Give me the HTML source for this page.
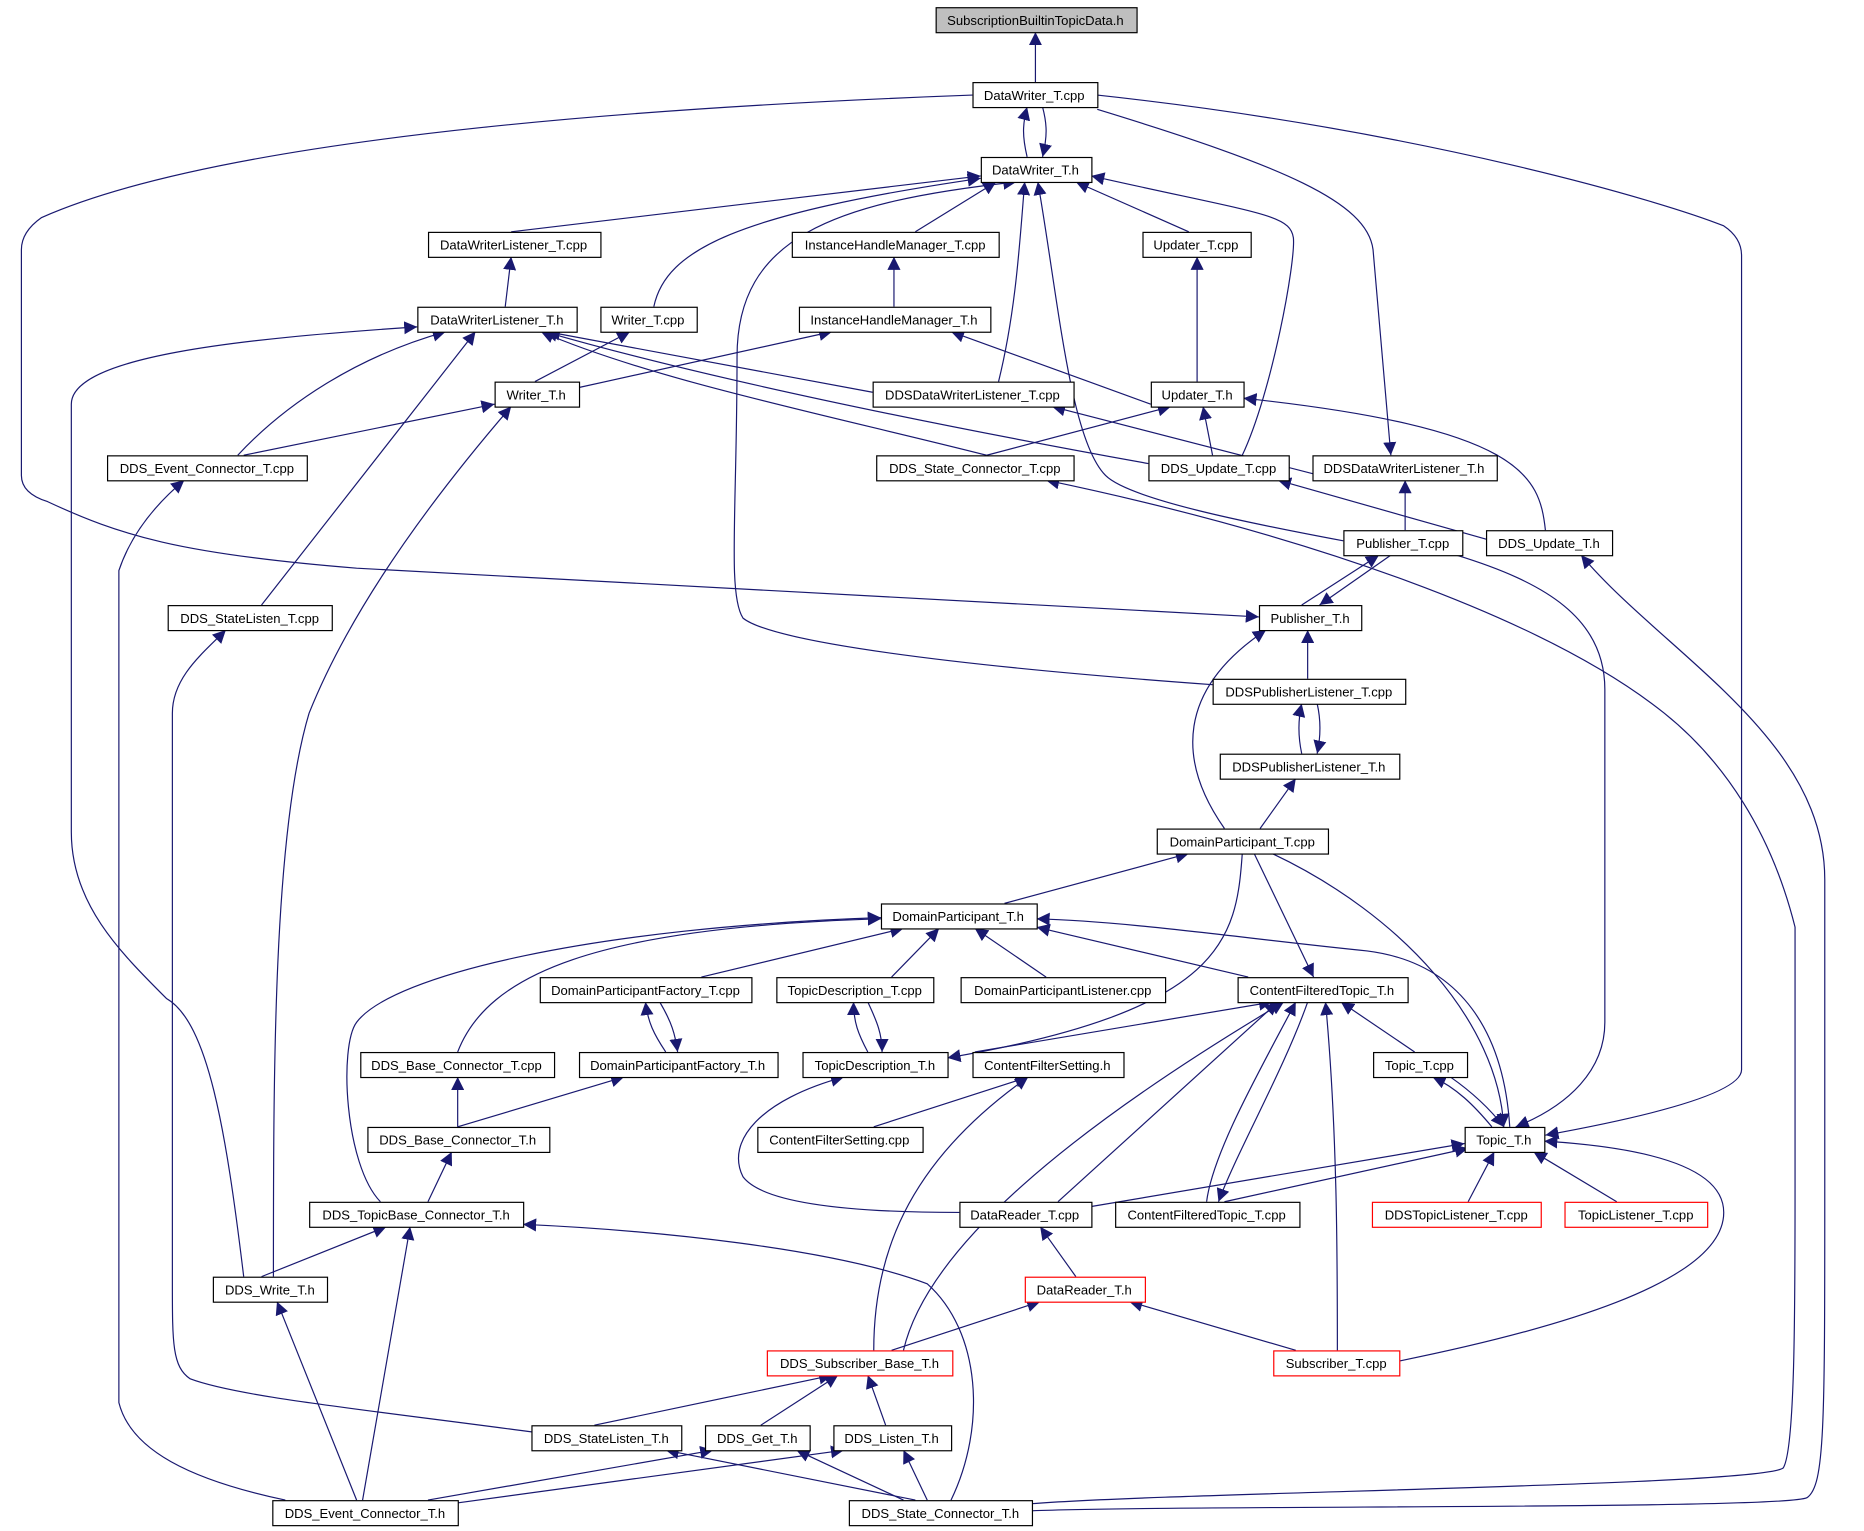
<!DOCTYPE html>
<html><head><meta charset="utf-8"><style>
html,body{margin:0;padding:0;background:#fff;width:1864px;height:1531px;overflow:hidden}
svg{display:block}
text{font-family:"Liberation Sans",sans-serif;font-size:11px;text-anchor:middle;fill:#000}
</style></head><body>
<svg width="1864" height="1531" viewBox="0 0 1568 1288" preserveAspectRatio="none" xmlns="http://www.w3.org/2000/svg">
<defs><marker id="a" viewBox="0 0 10 10" refX="10" refY="5" markerWidth="11" markerHeight="11" markerUnits="userSpaceOnUse" orient="auto"><path d="M0,0L10,5L0,10z" fill="#191970"/></marker></defs>
<g fill="none" stroke="#191970" stroke-width="1" marker-end="url(#a)">
<path d="M871,69L871,27"/>
<path d="M864,132C860,115 860,105 864,90"/>
<path d="M877,90C881,105 881,115 877,132"/>
<path d="M818,80C600,88 200,110 35,183Q18,195 18,210L18,400Q18,415 40,422C100,450 150,466 300,478L1059,519"/>
<path d="M923,80C1200,110 1400,170 1450,190Q1465,200 1465,215L1465,900Q1465,925 1300,955"/>
<path d="M923,92C1080,140 1150,170 1155,210L1170,383"/>
<path d="M430,195L825,148"/>
<path d="M770,195L838,153"/>
<path d="M1000,195L905,153"/>
<path d="M550,258C560,210 620,180 825,150"/>
<path d="M840,321C855,260 858,200 862,153"/>
<path d="M1045,383C1070,330 1090,220 1088,200C1085,180 1060,180 918,148"/>
<path d="M1130,455C1050,440 950,420 930,400C900,370 890,250 873,153"/>
<path d="M1020,576C800,560 650,540 625,520C612,500 620,430 620,300C620,200 700,170 855,153"/>
<path d="M1007,321L1007,216"/>
<path d="M752,258L752,216"/>
<path d="M425,258L430,216"/>
<path d="M450,321L530,279"/>
<path d="M487,326L700,279"/>
<path d="M734,330L460,279"/>
<path d="M968,340L800,279"/>
<path d="M830,383C700,350 550,320 455,279"/>
<path d="M966,390C800,360 600,320 458,279"/>
<path d="M200,383C240,340 300,300 375,279"/>
<path d="M205,383L416,340"/>
<path d="M220,509L400,279"/>
<path d="M205,1074C190,950 175,860 140,840C100,800 60,760 60,700L60,340C60,300 200,285 351,275"/>
<path d="M230,1074C230,900 230,700 260,600C300,500 380,400 430,342"/>
<path d="M830,383L985,342"/>
<path d="M1020,383L1012,342"/>
<path d="M1110,400L885,342"/>
<path d="M1300,446C1295,400 1280,360 1046,335"/>
<path d="M1255,455L1075,404"/>
<path d="M1182,446L1182,404"/>
<path d="M1095,509L1160,467"/>
<path d="M1170,467L1110,509"/>
<path d="M1225,467C1300,490 1350,520 1350,580L1350,860C1350,900 1320,930 1275,948"/>
<path d="M868,1271C1000,1266 1500,1270 1520,1260C1535,1250 1535,1200 1535,1000L1535,740C1535,620 1400,550 1330,467"/>
<path d="M868,1265C1000,1255 1480,1250 1500,1235C1510,1220 1510,1100 1510,1000L1510,780C1490,700 1450,640 1400,600C1300,520 1100,450 880,404"/>
<path d="M1100,571L1100,530"/>
<path d="M1095,634C1092,620 1092,605 1095,592"/>
<path d="M1108,592C1111,605 1111,620 1108,634"/>
<path d="M1060,697L1090,655"/>
<path d="M1030,697C990,640 990,580 1065,530"/>
<path d="M845,760L1000,718"/>
<path d="M1045,718C1040,790 1030,850 797,890"/>
<path d="M1055,718L1105,822"/>
<path d="M1070,718C1180,770 1260,860 1265,948"/>
<path d="M590,822L760,781"/>
<path d="M750,822L790,781"/>
<path d="M880,822L820,781"/>
<path d="M1050,822L872,780"/>
<path d="M1270,948C1265,870 1230,810 1150,800C1050,790 950,775 872,773"/>
<path d="M385,885C410,820 500,780 741,773"/>
<path d="M320,1011C290,980 285,880 300,860C330,820 500,780 741,772"/>
<path d="M560,885C550,870 545,860 543,843"/>
<path d="M555,843C565,860 568,870 570,885"/>
<path d="M730,885C722,870 718,860 718,843"/>
<path d="M730,843C738,860 742,870 742,885"/>
<path d="M820,885L1070,843"/>
<path d="M1190,885L1128,843"/>
<path d="M385,948L385,906"/>
<path d="M385,948L525,906"/>
<path d="M735,948L865,906"/>
<path d="M1255,948C1240,930 1225,915 1205,906"/>
<path d="M1220,906C1240,920 1255,935 1265,948"/>
<path d="M360,1011L380,969"/>
<path d="M807,1020C700,1020 640,1010 625,990C610,960 640,925 710,906"/>
<path d="M890,1011L1075,843"/>
<path d="M918,1015L1232,962"/>
<path d="M1015,1011C1020,970 1060,900 1090,843"/>
<path d="M1100,843C1080,900 1040,970 1025,1011"/>
<path d="M1030,1011L1235,966"/>
<path d="M1235,1011L1257,969"/>
<path d="M1360,1011L1290,969"/>
<path d="M220,1074L325,1032"/>
<path d="M905,1074L875,1032"/>
<path d="M760,1136C780,1050 900,950 1080,843"/>
<path d="M735,1136C735,1060 760,980 865,906"/>
<path d="M750,1136L875,1095"/>
<path d="M1090,1136L950,1095"/>
<path d="M1125,1136C1125,1060 1125,950 1115,843"/>
<path d="M1177,1145C1300,1120 1450,1080 1450,1020C1450,980 1380,965 1299,960"/>
<path d="M500,1199L700,1157"/>
<path d="M640,1199L705,1157"/>
<path d="M745,1199L730,1157"/>
<path d="M450,1205C300,1185 200,1175 160,1160C145,1150 145,1130 145,1080L145,600C145,570 170,550 190,530"/>
<path d="M300,1262L233,1095"/>
<path d="M305,1262L345,1032"/>
<path d="M240,1262C160,1245 110,1220 100,1180L100,480C110,450 130,425 155,404"/>
<path d="M360,1262L600,1220"/>
<path d="M380,1265L710,1220"/>
<path d="M770,1262L560,1220"/>
<path d="M760,1262L670,1220"/>
<path d="M780,1262L760,1220"/>
<path d="M800,1262C830,1200 825,1120 780,1080C700,1050 550,1035 440,1030"/>
</g>
<g stroke-width="1" fill="#fff" stroke="#000">
<rect x="787.5" y="6.5" width="169" height="21" fill="#bfbfbf"/>
<rect x="818.5" y="69.5" width="105" height="21"/>
<rect x="825.5" y="132.5" width="93" height="21"/>
<rect x="360.5" y="195.5" width="145" height="21"/>
<rect x="666.5" y="195.5" width="174" height="21"/>
<rect x="961.5" y="195.5" width="91" height="21"/>
<rect x="351.5" y="258.5" width="134" height="21"/>
<rect x="505.5" y="258.5" width="81" height="21"/>
<rect x="672.5" y="258.5" width="161" height="21"/>
<rect x="416.5" y="321.5" width="71" height="21"/>
<rect x="734.5" y="321.5" width="169" height="21"/>
<rect x="968.5" y="321.5" width="78" height="21"/>
<rect x="90.5" y="383.5" width="168" height="21"/>
<rect x="737.5" y="383.5" width="166" height="21"/>
<rect x="966.5" y="383.5" width="118" height="21"/>
<rect x="1104.5" y="383.5" width="155" height="21"/>
<rect x="1130.5" y="446.5" width="100" height="21"/>
<rect x="1250.5" y="446.5" width="106" height="21"/>
<rect x="141.5" y="509.5" width="138" height="21"/>
<rect x="1059.5" y="509.5" width="86" height="21"/>
<rect x="1020.5" y="571.5" width="162" height="21"/>
<rect x="1026.5" y="634.5" width="151" height="21"/>
<rect x="973.5" y="697.5" width="144" height="21"/>
<rect x="741.5" y="760.5" width="131" height="21"/>
<rect x="454.5" y="822.5" width="178" height="21"/>
<rect x="653.5" y="822.5" width="132" height="21"/>
<rect x="808.5" y="822.5" width="172" height="21"/>
<rect x="1041.5" y="822.5" width="143" height="21"/>
<rect x="303.5" y="885.5" width="163" height="21"/>
<rect x="487.5" y="885.5" width="167" height="21"/>
<rect x="675.5" y="885.5" width="122" height="21"/>
<rect x="818.5" y="885.5" width="127" height="21"/>
<rect x="1155.5" y="885.5" width="79" height="21"/>
<rect x="309.5" y="948.5" width="153" height="21"/>
<rect x="637.5" y="948.5" width="139" height="21"/>
<rect x="1232.5" y="948.5" width="67" height="21"/>
<rect x="260.5" y="1011.5" width="180" height="21"/>
<rect x="807.5" y="1011.5" width="111" height="21"/>
<rect x="938.5" y="1011.5" width="155" height="21"/>
<rect x="1154.5" y="1011.5" width="142" height="21" stroke="#f00"/>
<rect x="1316.5" y="1011.5" width="120" height="21" stroke="#f00"/>
<rect x="179.5" y="1074.5" width="96" height="21"/>
<rect x="862.5" y="1074.5" width="101" height="21" stroke="#f00"/>
<rect x="645.5" y="1136.5" width="156" height="21" stroke="#f00"/>
<rect x="1071.5" y="1136.5" width="106" height="21" stroke="#f00"/>
<rect x="447.5" y="1199.5" width="126" height="21"/>
<rect x="593.5" y="1199.5" width="88" height="21"/>
<rect x="701.5" y="1199.5" width="99" height="21"/>
<rect x="229.5" y="1262.5" width="156" height="21"/>
<rect x="714.5" y="1262.5" width="154" height="21"/>
</g>
<g>
<text x="871" y="21">SubscriptionBuiltinTopicData.h</text>
<text x="870" y="84">DataWriter_T.cpp</text>
<text x="871" y="147">DataWriter_T.h</text>
<text x="432" y="210">DataWriterListener_T.cpp</text>
<text x="753" y="210">InstanceHandleManager_T.cpp</text>
<text x="1006" y="210">Updater_T.cpp</text>
<text x="418" y="273">DataWriterListener_T.h</text>
<text x="545" y="273">Writer_T.cpp</text>
<text x="752" y="273">InstanceHandleManager_T.h</text>
<text x="451" y="336">Writer_T.h</text>
<text x="818" y="336">DDSDataWriterListener_T.cpp</text>
<text x="1007" y="336">Updater_T.h</text>
<text x="174" y="398">DDS_Event_Connector_T.cpp</text>
<text x="820" y="398">DDS_State_Connector_T.cpp</text>
<text x="1025" y="398">DDS_Update_T.cpp</text>
<text x="1181" y="398">DDSDataWriterListener_T.h</text>
<text x="1180" y="461">Publisher_T.cpp</text>
<text x="1303" y="461">DDS_Update_T.h</text>
<text x="210" y="524">DDS_StateListen_T.cpp</text>
<text x="1102" y="524">Publisher_T.h</text>
<text x="1101" y="586">DDSPublisherListener_T.cpp</text>
<text x="1101" y="649">DDSPublisherListener_T.h</text>
<text x="1045" y="712">DomainParticipant_T.cpp</text>
<text x="806" y="775">DomainParticipant_T.h</text>
<text x="543" y="837">DomainParticipantFactory_T.cpp</text>
<text x="719" y="837">TopicDescription_T.cpp</text>
<text x="894" y="837">DomainParticipantListener.cpp</text>
<text x="1112" y="837">ContentFilteredTopic_T.h</text>
<text x="384" y="900">DDS_Base_Connector_T.cpp</text>
<text x="570" y="900">DomainParticipantFactory_T.h</text>
<text x="736" y="900">TopicDescription_T.h</text>
<text x="881" y="900">ContentFilterSetting.h</text>
<text x="1194" y="900">Topic_T.cpp</text>
<text x="385" y="963">DDS_Base_Connector_T.h</text>
<text x="706" y="963">ContentFilterSetting.cpp</text>
<text x="1265" y="963">Topic_T.h</text>
<text x="350" y="1026">DDS_TopicBase_Connector_T.h</text>
<text x="862" y="1026">DataReader_T.cpp</text>
<text x="1015" y="1026">ContentFilteredTopic_T.cpp</text>
<text x="1225" y="1026">DDSTopicListener_T.cpp</text>
<text x="1376" y="1026">TopicListener_T.cpp</text>
<text x="227" y="1089">DDS_Write_T.h</text>
<text x="912" y="1089">DataReader_T.h</text>
<text x="723" y="1151">DDS_Subscriber_Base_T.h</text>
<text x="1124" y="1151">Subscriber_T.cpp</text>
<text x="510" y="1214">DDS_StateListen_T.h</text>
<text x="637" y="1214">DDS_Get_T.h</text>
<text x="750" y="1214">DDS_Listen_T.h</text>
<text x="307" y="1277">DDS_Event_Connector_T.h</text>
<text x="791" y="1277">DDS_State_Connector_T.h</text>
</g>
</svg>
</body></html>
